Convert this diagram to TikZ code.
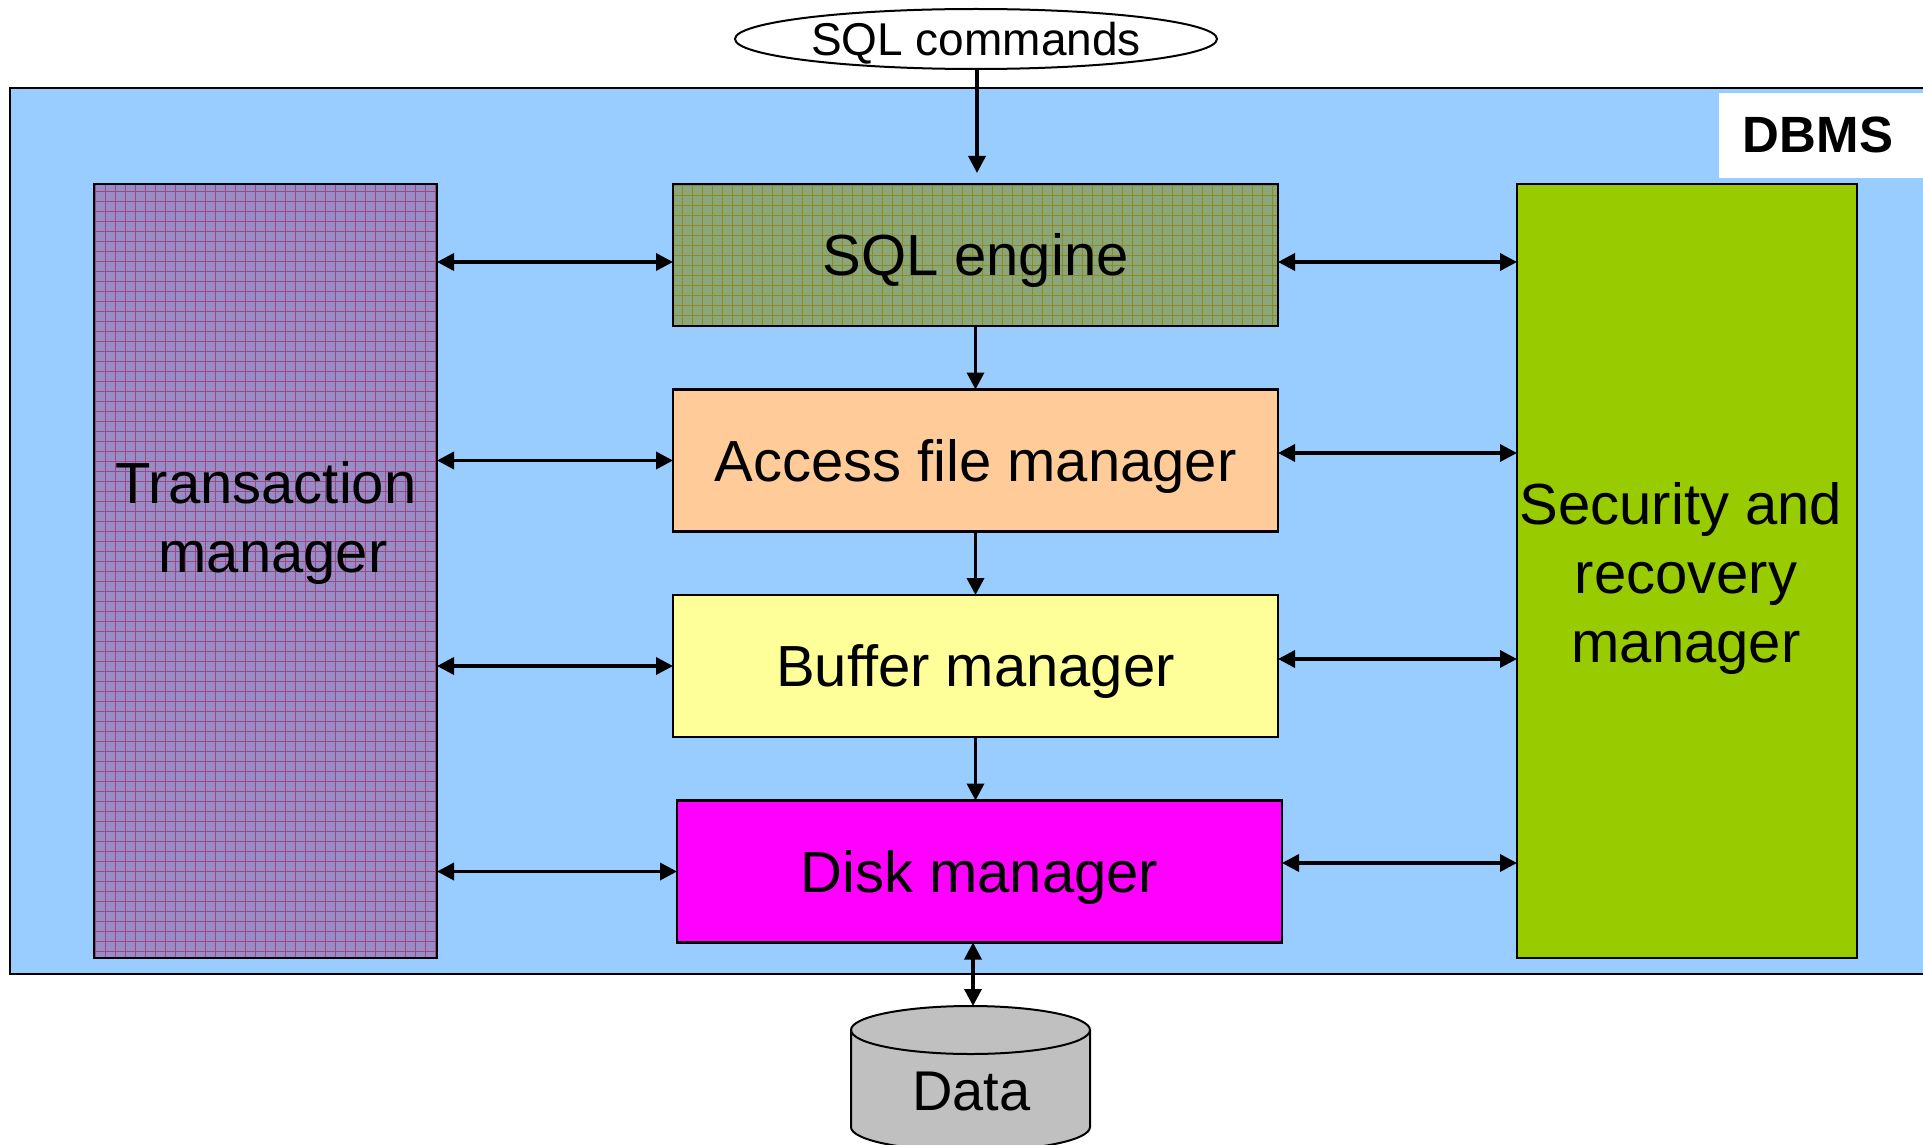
\documentclass[tikz,border=0pt]{standalone}
\usepackage{fontspec}
\setmainfont{Liberation Sans}
\usetikzlibrary{arrows.meta,shapes.geometric,calc}
\definecolor{dbblue}{RGB}{153,204,255}
\definecolor{tmfill}{RGB}{152,140,198}
\definecolor{tmgrid}{RGB}{160,70,130}
\definecolor{sqlfill}{RGB}{138,166,122}
\definecolor{sqlgrid}{RGB}{140,140,30}
\definecolor{accfill}{RGB}{255,204,153}
\definecolor{buffill}{RGB}{255,255,153}
\definecolor{diskfill}{RGB}{255,0,255}
\definecolor{secfill}{RGB}{153,204,0}
\definecolor{datafill}{RGB}{192,192,192}
\newcommand\mainsz{\fontsize{58}{69}\selectfont}
\tikzset{
  box/.style={draw, line width=2.5pt, inner sep=0pt, outer sep=0pt, font=\mainsz,
              text height=41.5pt, text depth=0pt},
  lbl/.style={inner sep=0pt, outer sep=0pt, font=\mainsz, align=center},
  gridfill/.style={path picture={\draw[#1, line width=0.6pt, step=10pt]
      (path picture bounding box.south west) grid (path picture bounding box.north east);}},
  arr/.style={line width=3.5pt, -{Triangle[length=17pt,width=17pt]}},
  dbl/.style={line width=3.5pt, {Triangle[length=17pt,width=17pt]}-{Triangle[length=17pt,width=17pt]}}
}
\begin{document}
\begin{tikzpicture}[x=1pt,y=-1pt]
\useasboundingbox (0,0) rectangle (1923,1145);
\clip (0,0) rectangle (1923,1145);
\fill[white] (0,0) rectangle (1923,1145);

% DBMS frame
\node[draw, fill=dbblue, line width=2pt, inner sep=0pt, outer sep=0pt,
      minimum width=1940pt, minimum height=886pt, anchor=north west] (dbms) at (10,88) {};
\node[fill=white, inner sep=0pt, outer sep=0pt, minimum width=230pt, minimum height=85pt,
      anchor=north west] (dbmsbox) at (1719,93) {};
\node[inner sep=0pt, font=\bfseries\fontsize{51}{60}\selectfont] (dbmslbl) at (1818,134.5) {DBMS};

% SQL commands
\node[ellipse, draw, fill=white, line width=2pt, inner sep=0pt, minimum width=482pt,
      minimum height=60pt, font=\fontsize{46}{55}\selectfont,
      text height=33pt, text depth=0pt] (cmd) at (976,39) {SQL commands};
\coordinate (cmdend) at (977,173);

% side boxes
\node[box, fill=tmfill, gridfill=tmgrid, minimum width=343pt, minimum height=774pt] (tm) at (265.5,571) {};
\node[lbl] (tmlabel) at (266,523) {Transaction\\\hspace*{14pt}manager};
\node[box, fill=secfill, minimum width=340pt, minimum height=774pt] (sec) at (1687,571) {};
\node[lbl] (seclabel) at (1686,578) {Security and\hspace*{10pt}\\recovery\\manager};

% middle boxes
\node[box, fill=sqlfill, gridfill=sqlgrid, minimum width=605pt, minimum height=142pt] (sql) at (975.5,255) {SQL engine};
\node[box, fill=accfill, minimum width=605pt, minimum height=142pt] (acc) at (975.5,460.5) {Access file manager};
\node[box, fill=buffill, minimum width=605pt, minimum height=142pt] (buf) at (975.5,666) {Buffer manager};
\node[box, fill=diskfill, minimum width=605pt, minimum height=142pt] (disk) at (979.5,871.5) {Disk manager};

% Data cylinder
\fill[datafill] (851,1030) -- (851,1127) arc[start angle=180, end angle=360, x radius=119.5pt, y radius=24pt]
  -- (1090,1030) arc[start angle=0, end angle=180, x radius=119.5pt, y radius=24pt] -- cycle;
\draw[line width=2pt] (851,1030) -- (851,1127) arc[start angle=180, end angle=360, x radius=119.5pt, y radius=24pt]
  -- (1090,1030);
\draw[line width=2pt] (970.5,1030) ellipse[x radius=119.5pt, y radius=24pt];
\node[lbl, font=\fontsize{56}{66}\selectfont] (data) at (971.5,1091) {Data};
\coordinate (datatop) at (973,1006);

% connectors
\draw[arr] (cmd.south -| cmdend) -- (cmdend);
\draw[arr] (sql.south) -- (acc.north);
\draw[arr] (acc.south) -- (buf.north);
\draw[arr] (buf.south) -- (buf.south |- disk.north);
\draw[dbl] (disk.south -| datatop) -- (datatop);

\coordinate (l1) at ($(sql.west)+(0,7)$);
\draw[dbl] (tm.east |- l1) -- (l1);
\draw[dbl] (tm.east |- acc.west) -- (acc.west);
\draw[dbl] (tm.east |- buf.west) -- (buf.west);
\draw[dbl] (tm.east |- disk.west) -- (disk.west);

\coordinate (r1) at ($(sql.east)+(0,7)$);
\coordinate (r2) at ($(acc.east)+(0,-7.5)$);
\coordinate (r3) at ($(buf.east)+(0,-7)$);
\coordinate (r4) at ($(disk.east)+(0,-8.5)$);
\draw[dbl] (r1) -- (sec.west |- r1);
\draw[dbl] (r2) -- (sec.west |- r2);
\draw[dbl] (r3) -- (sec.west |- r3);
\draw[dbl] (r4) -- (sec.west |- r4);
\end{tikzpicture}
\end{document}
